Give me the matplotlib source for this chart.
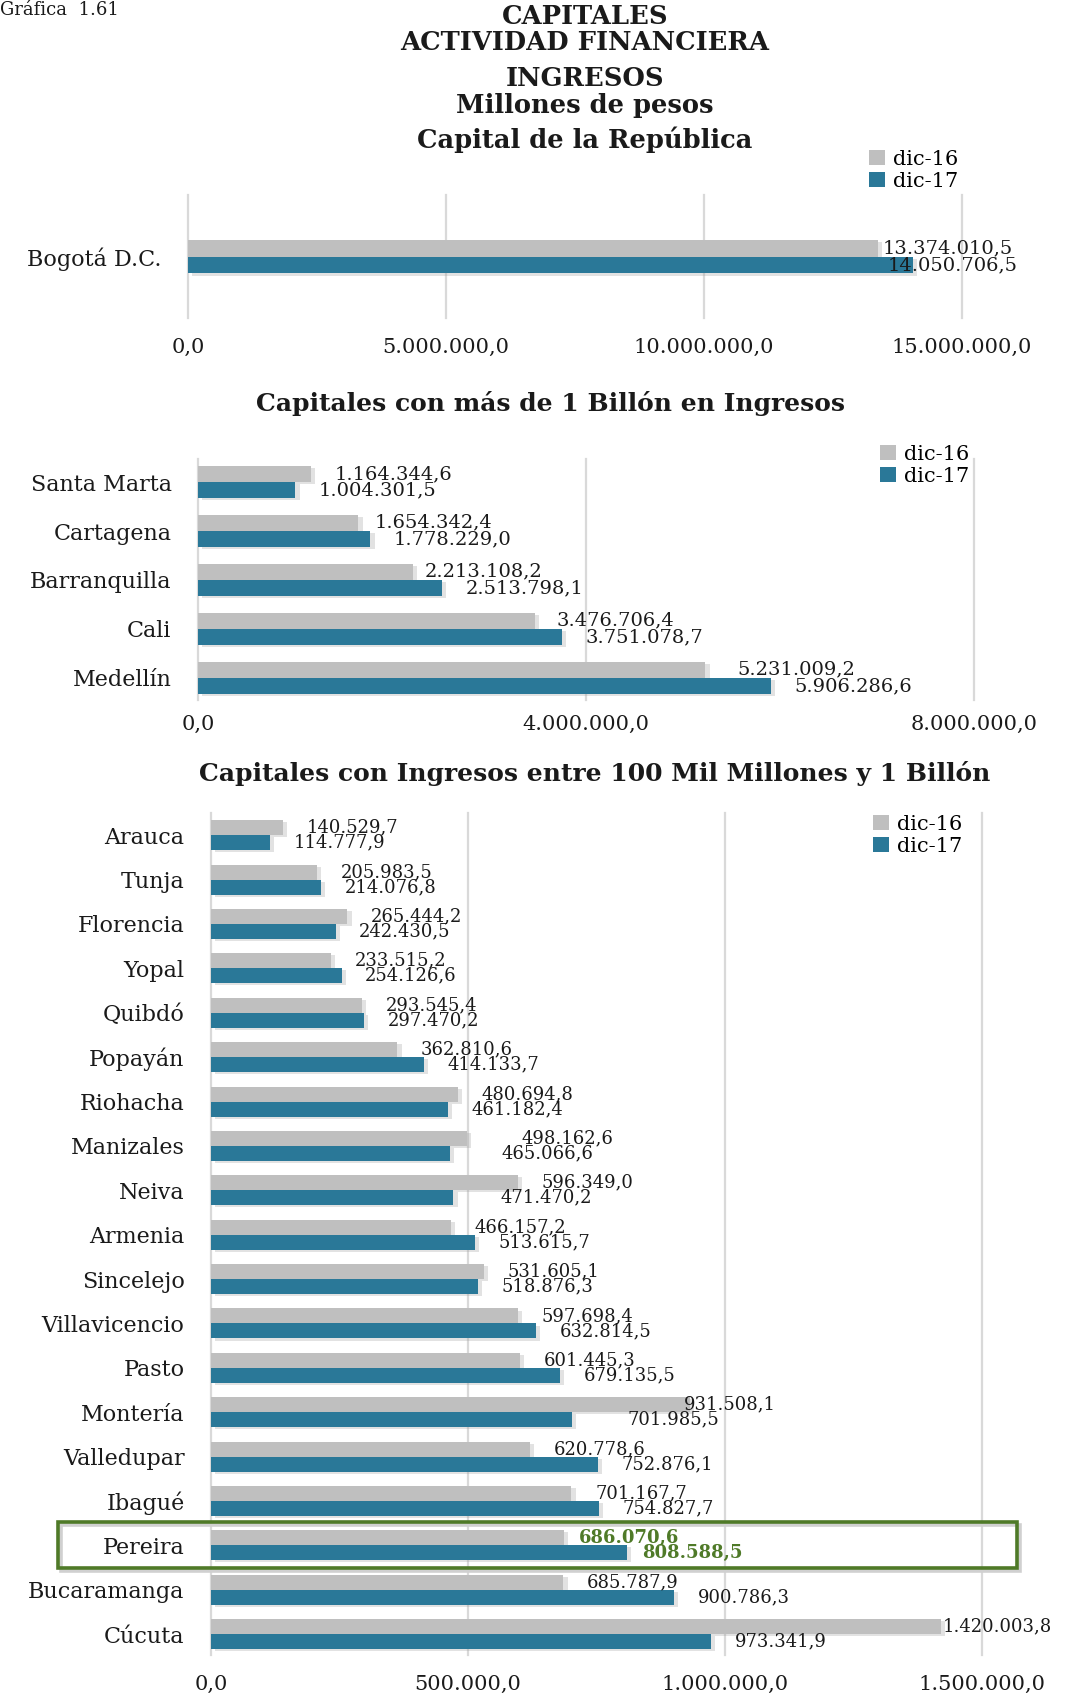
import numpy as np
import matplotlib.pyplot as plt
import matplotlib.patheffects as pe
import matplotlib.transforms as mtransforms
from matplotlib.patches import Rectangle, Patch

plt.rcParams['font.family'] = ['DejaVu Serif']

W, H = 1077, 1693

series = ['dic-16', 'dic-17']
gray = '#BFBFBF'
blue = '#2A7898'
green = '#4F7A28'
txt = '#1a1a1a'

# capital de la republica
cap_cities = ['Bogotá D.C.']
cap_dic16 = [13374010.5]
cap_dic17 = [14050706.5]
cap_ticks = [0, 5000000, 10000000, 15000000]

# capitales con mas de 1 billon
big_cities = ['Santa Marta', 'Cartagena', 'Barranquilla', 'Cali', 'Medellín']
big_dic16 = [1164344.6, 1654342.4, 2213108.2, 3476706.4, 5231009.2]
big_dic17 = [1004301.5, 1778229.0, 2513798.1, 3751078.7, 5906286.6]
big_ticks = [0, 4000000, 8000000]

# capitales entre 100 mil millones y 1 billon
mid_cities = ['Arauca', 'Tunja', 'Florencia', 'Yopal', 'Quibdó', 'Popayán',
              'Riohacha', 'Manizales', 'Neiva', 'Armenia', 'Sincelejo',
              'Villavicencio', 'Pasto', 'Montería', 'Valledupar', 'Ibagué',
              'Pereira', 'Bucaramanga', 'Cúcuta']
mid_dic16 = [140529.7, 205983.5, 265444.2, 233515.2, 293545.4, 362810.6,
             480694.8, 498162.6, 596349.0, 466157.2, 531605.1, 597698.4,
             601445.3, 931508.1, 620778.6, 701167.7, 686070.6, 685787.9,
             1420003.8]
mid_dic17 = [114777.9, 214076.8, 242430.5, 254126.6, 297470.2, 414133.7,
             461182.4, 465066.6, 471470.2, 513615.7, 518876.3, 632814.5,
             679135.5, 701985.5, 752876.1, 754827.7, 808588.5, 900786.3,
             973341.9]
mid_ticks = [0, 500000, 1000000, 1500000]

highlight = 'Pereira'

# label shifts (points) where the default gap is not used
nudge = {
    ('Bogotá D.C.', 0): 3, ('Bogotá D.C.', 1): -18,
    ('Cartagena', 0): 11.5, ('Barranquilla', 0): 8.5, ('Cali', 0): 15,
    ('Medellín', 0): 23,
    ('Manizales', 0): 39, ('Manizales', 1): 37, ('Neiva', 1): 34,
    ('Montería', 0): -4, ('Montería', 1): 40,
    ('Pereira', 0): 11, ('Pereira', 1): 11, ('Cúcuta', 0): 1,
}


def fmt(v):
    s = f'{v:,.1f}'
    return s.replace(',', 'X').replace('.', ',').replace('X', '.')


def add_axes_px(left, top, right, bottom):
    return fig.add_axes([left / W, 1 - bottom / H, (right - left) / W, (bottom - top) / H])


def panel(ax, cities, d16, d17, ticks, h, ylim, xpad, vsize):
    y = np.arange(len(cities))
    shadow = [pe.withSimplePatchShadow(offset=(3, -1.5), shadow_rgbFace='#a0a0a0', alpha=0.3)]
    b16 = ax.barh(y - h / 2, d16, height=h, color=gray, zorder=3)
    b17 = ax.barh(y + h / 2, d17, height=h, color=blue, zorder=3)
    for b in list(b16) + list(b17):
        b.set_path_effects(shadow)

    for i, city in enumerate(cities):
        for k, (vals, yy) in enumerate(((d16, y - h / 2), (d17, y + h / 2))):
            dx = nudge.get((city, k), 17)
            hl = city == highlight
            ax.annotate(fmt(vals[i]), (vals[i], yy[i]), xytext=(dx, 0),
                        textcoords='offset points', va='center', ha='left',
                        fontsize=vsize, color=green if hl else txt,
                        weight='bold' if hl else 'normal', zorder=5)

    ax.set_xlim(ticks[0], ticks[-1])
    ax.set_ylim(*ylim)
    ax.set_xticks(ticks)
    ax.set_xticklabels([fmt(t) for t in ticks])
    ax.set_yticks(y)
    ax.set_yticklabels(cities)
    ax.grid(axis='x', color='#D9D9D9', linewidth=1.6, zorder=0)
    ax.set_axisbelow(True)
    for line in ax.get_xgridlines():
        line.set_clip_on(False)
    for s in ax.spines.values():
        s.set_visible(False)
    ax.tick_params(length=0, labelsize=15, labelcolor=txt)
    ax.tick_params(axis='y', labelsize=16, pad=19)
    ax.tick_params(axis='x', pad=xpad)


def legend(x, y_top):
    handles = [Patch(facecolor=gray), Patch(facecolor=blue)]
    fig.legend(handles, series, loc='upper left',
               bbox_to_anchor=(x / W, 1 - y_top / H), bbox_transform=fig.transFigure,
               frameon=False, fontsize=15, handlelength=0.75, handleheight=0.75,
               handletextpad=0.4, labelspacing=0.15, borderpad=0, borderaxespad=0)


fig = plt.figure(figsize=(W / 100, H / 100), dpi=100)

# titles
fig.text(0, 1 - 10 / H, 'Gráfica  1.61', fontsize=13, ha='left', va='center', color=txt)
for label, yy in [('CAPITALES', 16), ('ACTIVIDAD FINANCIERA', 43), ('INGRESOS', 79),
                  ('Millones de pesos', 105), ('Capital de la República', 140)]:
    fig.text(585 / W, 1 - yy / H, label, fontsize=18.5, weight='bold', ha='center',
             va='center', color=txt)
fig.text(551 / W, 1 - 403 / H, 'Capitales con más de 1 Billón en Ingresos',
         fontsize=18, weight='bold', ha='center', va='center', color=txt)
fig.text(595 / W, 1 - 773 / H, 'Capitales con Ingresos entre 100 Mil Millones y 1 Billón',
         fontsize=18, weight='bold', ha='center', va='center', color=txt)

ax1 = add_axes_px(188, 195, 962, 318)
panel(ax1, cap_cities, cap_dic16, cap_dic17, cap_ticks, 0.138, (0.5, -0.5), 14, 14)
legend(869, 150)

ax2 = add_axes_px(198, 459, 974, 700)
panel(ax2, big_cities, big_dic16, big_dic17, big_ticks, 0.333, (4.45, -0.47), 11, 14)
legend(880, 445)

ax3 = add_axes_px(211, 813, 982, 1655)
panel(ax3, mid_cities, mid_dic16, mid_dic17, mid_ticks, 0.338, (18.47, -0.5), 14, 13)
legend(873, 815)

# box around the highlighted city, with a light offset outline as its shadow
k = mid_cities.index(highlight)
trans = mtransforms.blended_transform_factory(fig.transFigure, ax3.transData)
shade = mtransforms.offset_copy(trans, fig=fig, x=2.5, y=-2.5, units='dots')
for tr, col, z in [(shade, '#d0d0d0', 5.5), (trans, green, 6)]:
    ax3.add_patch(Rectangle((58 / W, k - 0.52), (1017 - 58) / W, 1.04, transform=tr,
                            fill=False, edgecolor=col, linewidth=2.6, clip_on=False,
                            zorder=z))

fig.savefig('out.png', dpi=100)
